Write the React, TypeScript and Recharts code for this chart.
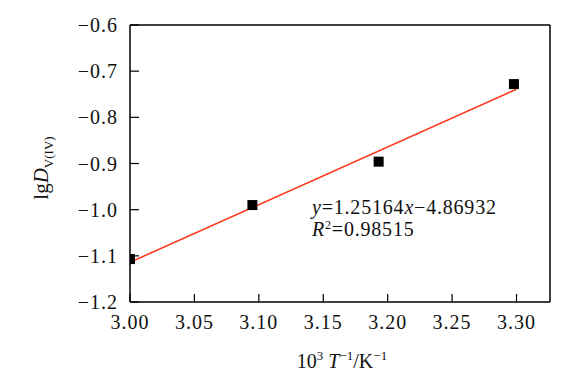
import { ComposedChart, Scatter, XAxis, YAxis, ReferenceLine } from 'recharts';

const xValues = [3.0, 3.095, 3.193, 3.298];
const yValues = [-1.107, -0.99, -0.896, -0.728];
const fitX = [3.0, 3.3];
const fitY = [-1.114, -0.739];
const xTicks = [3.0, 3.05, 3.1, 3.15, 3.2, 3.25, 3.3];
const yTicks = [-1.2, -1.1, -1.0, -0.9, -0.8, -0.7, -0.6];

const points = xValues.map((x, i) => ({ x, y: yValues[i] }));
const fit = fitX.map((x, i) => ({ x, y: fitY[i] }));

const FONT = '"Liberation Serif", "Times New Roman", serif';
const minus = (s: string) => s.replace('-', '\u2212');

const XTick = ({ x, y, payload }: any) => (
  <g>
    <line x1={x} x2={x} y1={y} y2={y - 8} stroke="#000" strokeWidth={1.2} />
    <text x={x} y={y + 27} textAnchor="middle" fontFamily={FONT} fontSize={20} letterSpacing={1} fill="#111">
      {payload.value.toFixed(2)}
    </text>
  </g>
);

const YTick = ({ x, y, payload }: any) => (
  <g>
    <line x1={x} x2={x + 9} y1={y} y2={y} stroke="#000" strokeWidth={1.2} />
    <text x={x - 12} y={y + 7} textAnchor="end" fontFamily={FONT} fontSize={20} letterSpacing={1} fill="#111">
      {minus(payload.value.toFixed(1))}
    </text>
  </g>
);

const Square = ({ cx, cy }: any) => <rect x={cx - 5} y={cy - 5} width={10} height={10} fill="#000" />;

export default function App() {
  return (
    <div style={{ position: 'absolute', left: 0, top: 0, width: 583, height: 385, background: '#fff' }}>
      <ComposedChart width={583} height={385} margin={{ top: 25, right: 33, left: 0, bottom: 0 }}>
        <XAxis
          type="number" dataKey="x" domain={[3.0, 3.326]} ticks={xTicks} allowDataOverflow
          tick={<XTick />} tickLine={false} tickSize={0} tickMargin={0} height={83}
          stroke="#000" strokeWidth={1.5}
          label={{
            content: () => (
              <text x={342} y={368} textAnchor="middle" fontFamily={FONT} fontSize={20} fill="#111">
                10<tspan fontSize={13} dy={-8}>3</tspan>
                <tspan dy={8}> </tspan>
                <tspan fontStyle="italic">T</tspan>
                <tspan fontSize={13} dy={-8}>−1</tspan>
                <tspan dy={8}>/K</tspan>
                <tspan fontSize={13} dy={-8}>−1</tspan>
              </text>
            ),
          }}
        />
        <YAxis
          type="number" dataKey="y" domain={[-1.2, -0.6]} ticks={yTicks} allowDataOverflow
          tick={<YTick />} tickLine={false} tickSize={0} tickMargin={0} width={130}
          stroke="#000" strokeWidth={1.5}
          label={{
            content: () => (
              <text x={0} y={0} transform="translate(48,168) rotate(-90)" textAnchor="middle" fontFamily={FONT} fontSize={21} fill="#111">
                lg<tspan fontStyle="italic">D</tspan>
                <tspan fontSize={13} dy={5}>V(IV)</tspan>
              </text>
            ),
          }}
        />
        <ReferenceLine y={-0.6} stroke="#000" strokeWidth={1.5} />
        <ReferenceLine x={3.326} stroke="#000" strokeWidth={1.5} />
        <Scatter data={fit} line={{ stroke: '#ff3b1f', strokeWidth: 1.6 }} shape={() => <g />} isAnimationActive={false} />
        <Scatter data={points} shape={<Square />} isAnimationActive={false} />
      </ComposedChart>
      <svg width={583} height={385} style={{ position: 'absolute', left: 0, top: 0, pointerEvents: 'none' }}>
        <text x={312} y={214} fontFamily={FONT} fontSize={20} letterSpacing={0.8} fill="#111">
          <tspan fontStyle="italic">y</tspan>=1.25164<tspan fontStyle="italic">x</tspan>−4.86932
        </text>
        <text x={312} y={236} fontFamily={FONT} fontSize={20} letterSpacing={0.8} fill="#111">
          <tspan fontStyle="italic">R</tspan>
          <tspan fontSize={12} dy={-7}>2</tspan>
          <tspan dy={7}>=0.98515</tspan>
        </text>
      </svg>
    </div>
  );
}
